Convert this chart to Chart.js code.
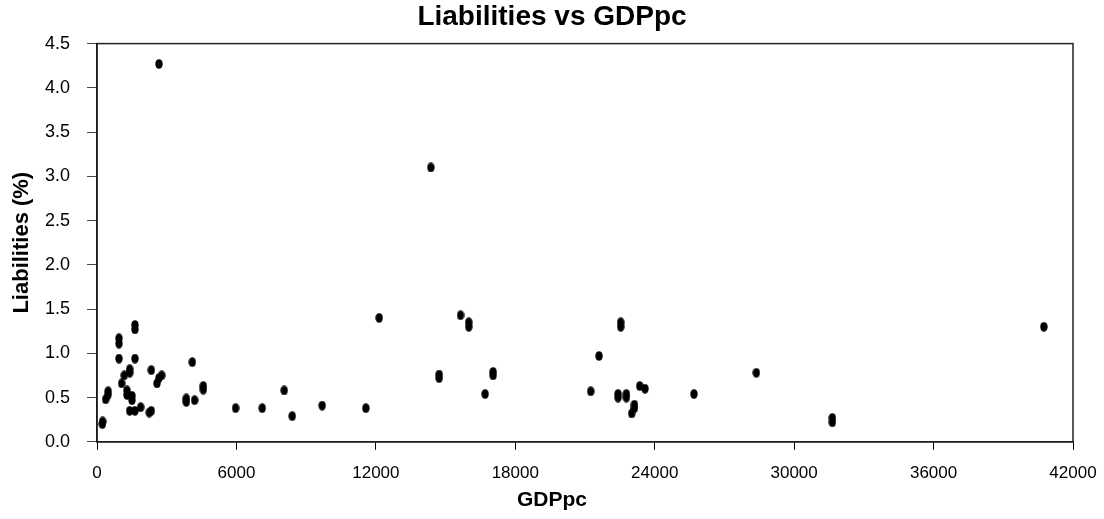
<!DOCTYPE html>
<html>
<head>
<meta charset="utf-8">
<script src="https://cdn.jsdelivr.net/npm/chart.js@4"></script>
<style>
  html, body { margin: 0; padding: 0; background: #fff; }
  #wrap { width: 1104px; height: 519px; }
</style>
</head>
<body>
<div id="wrap"><canvas id="chart" width="1104" height="519"></canvas></div>
<script>
// values
const gdppc = [
  230, 240, 373, 470, 480, 946, 946, 946, 1634, 1634, 1634, 1062, 1175, 1405, 1405,
  1290, 1290, 1505, 1505, 1405, 1634, 1879, 2250, 2336, 2336, 2581, 2667, 2782, 2667,
  3842, 3842, 4100, 4201, 4573, 4573, 5965, 7110, 8057, 8400, 9690, 11570, 12142,
  14365, 14723, 14723, 15643, 16000, 16000, 16702, 17046, 17046, 21247, 21604,
  22537, 22537, 22422, 22422, 22780, 22780, 23125, 23125, 23010, 23354, 23583,
  25690, 28374, 31643, 31643, 40745
];
const liabilities = [
  0.20, 0.23, 0.48, 0.53, 0.57, 1.11, 1.17, 0.94, 1.27, 1.32, 0.94, 0.66, 0.75, 0.78, 0.82,
  0.53, 0.58, 0.47, 0.52, 0.35, 0.35, 0.39, 0.33, 0.35, 0.81, 0.66, 0.72, 0.75, 4.27,
  0.45, 0.49, 0.90, 0.47, 0.59, 0.63, 0.38, 0.38, 0.58, 0.29, 0.41, 0.38, 1.40,
  3.10, 0.72, 0.76, 1.43, 1.30, 1.35, 0.54, 0.75, 0.79, 0.57, 0.97,
  1.30, 1.35, 0.50, 0.54, 0.50, 0.54, 0.38, 0.42, 0.32, 0.63, 0.60,
  0.54, 0.78, 0.22, 0.27, 1.30
];
const xTicks = [0, 6000, 12000, 18000, 24000, 30000, 36000, 42000];
const yTicks = [0, 0.5, 1, 1.5, 2, 2.5, 3, 3.5, 4, 4.5];

const points = gdppc.map((x, i) => ({ x, y: liabilities[i] }));

// oval marker like the original
const dot = document.createElement('canvas');
dot.width = 8;
dot.height = 10;
const dctx = dot.getContext('2d');
dctx.fillStyle = '#000';
dctx.beginPath();
dctx.ellipse(4, 5, 3.7, 4.8, 0, 0, Math.PI * 2);
dctx.fill();

const frame = {
  id: 'frame',
  afterDraw(chart) {
    const { ctx, chartArea: a } = chart;
    ctx.save();
    ctx.strokeStyle = '#222';
    ctx.lineWidth = 1.5;
    ctx.strokeRect(a.left, a.top, a.right - a.left, a.bottom - a.top);
    ctx.restore();
  }
};

new Chart(document.getElementById('chart').getContext('2d'), {
  type: 'scatter',
  data: {
    datasets: [{
      data: points,
      pointStyle: dot,
      pointRadius: 5,
      pointHoverRadius: 5,
      backgroundColor: '#000',
      borderColor: '#000'
    }]
  },
  options: {
    responsive: false,
    animation: false,
    layout: { padding: 0 },
    plugins: {
      legend: { display: false },
      tooltip: { enabled: false },
      title: {
        display: true,
        text: 'Liabilities vs GDPpc',
        color: '#000',
        font: { family: 'Arial, "Liberation Sans", sans-serif', size: 28, weight: 'bold' },
        padding: { top: 0, bottom: 10 }
      },
      subtitle: {
        display: true,
        position: 'bottom',
        text: 'GDPpc',
        color: '#000',
        font: { family: 'Arial, "Liberation Sans", sans-serif', size: 21, weight: 'bold' },
        padding: { top: 0, bottom: 6 }
      }
    },
    scales: {
      x: {
        type: 'linear',
        min: 0,
        max: 42000,
        afterBuildTicks: (s) => { s.ticks = xTicks.map(v => ({ value: v })); },
        afterFit: (s) => { s.height = 46; s.paddingRight = 31; },
        grid: { drawOnChartArea: false, drawTicks: true, tickLength: 8, color: '#000' },
        border: { display: true, color: '#000', width: 1.5 },
        ticks: {
          color: '#000',
          padding: 13,
          maxRotation: 0,
          callback: (v) => String(v),
          font: { family: 'Arial, "Liberation Sans", sans-serif', size: 17 }
        }
      },
      y: {
        type: 'linear',
        min: 0,
        max: 4.5,
        afterBuildTicks: (s) => { s.ticks = yTicks.map(v => ({ value: v })); },
        afterFit: (s) => { s.width = 97; },
        grid: { drawOnChartArea: false, drawTicks: true, tickLength: 10, color: '#444' },
        border: { display: true, color: '#000', width: 1.5 },
        title: {
          display: true,
          text: 'Liabilities (%)',
          color: '#000',
          font: { family: 'Arial, "Liberation Sans", sans-serif', size: 22, weight: 'bold' },
          padding: { top: 9, bottom: 0 }
        },
        ticks: {
          color: '#000',
          padding: 17,
          callback: (v) => Number(v).toFixed(1),
          font: { family: 'Arial, "Liberation Sans", sans-serif', size: 18 }
        }
      }
    }
  },
  plugins: [frame]
});
</script>
</body>
</html>
